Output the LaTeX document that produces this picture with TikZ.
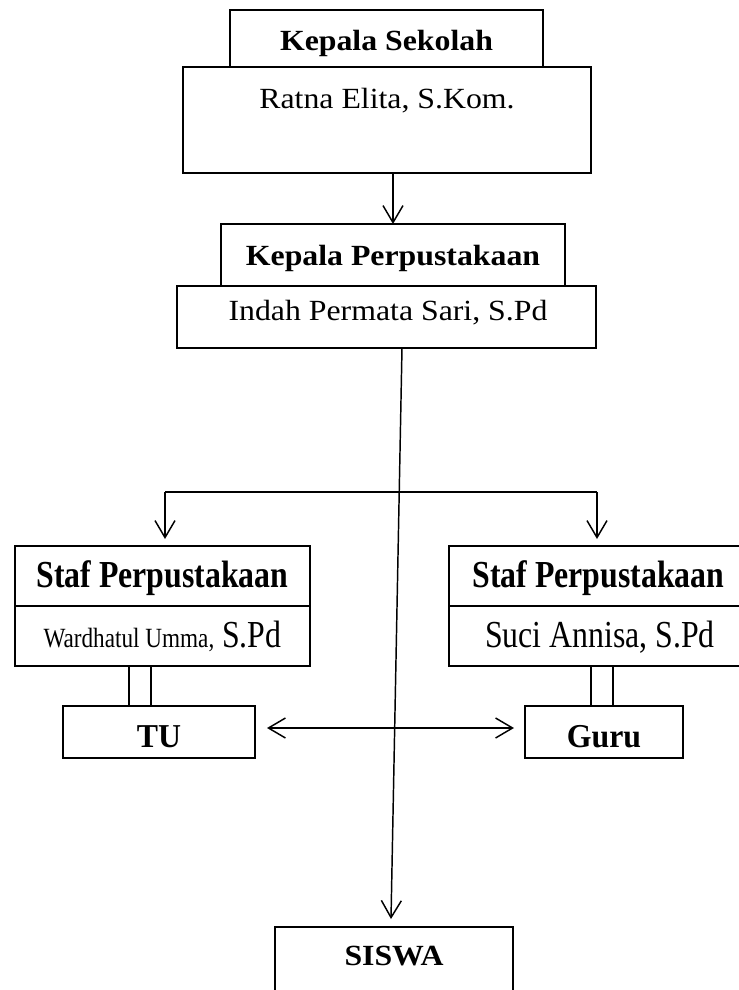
\documentclass[tikz,border=0pt]{standalone}
\usepackage{fontspec}
\setmainfont{Liberation Serif}
\usepackage{graphicx}
\usetikzlibrary{arrows.meta,calc}
\newcommand\upT[1]{\scalebox{1}[0.92]{#1}}
\newcommand\loT[1]{\scalebox{1}[1.2]{#1}}
\newcommand\miT[1]{\scalebox{1}[1.05]{#1}}
\def\u{0.75pt}
\begin{document}
\begin{tikzpicture}[x=0.75pt,y=-0.75pt,
  every node/.style={font=\fontsize{23.85}{28}\selectfont},
  boxst/.style={draw, line width=1.2pt, inner sep=0pt, outer sep=0pt},
  txt/.style={anchor=base, inner sep=0pt},
  conn/.style={line width=1.1pt},
  arr/.style={conn, -{Straight Barb[length=12.75pt, width=15pt, line width=1.1pt]}},
  darr/.style={conn, {Straight Barb[length=12.75pt, width=15pt, line width=1.1pt]}-{Straight Barb[length=12.75pt, width=15pt, line width=1.1pt]}}
]
\useasboundingbox (0,0) rectangle (739,990);
\clip (0,0) rectangle (739,990);

% boxes
\node[boxst, minimum width=313*\u, minimum height=57*\u] (kst) at (386.5,38.5) {};
\node[boxst, minimum width=408*\u, minimum height=106*\u] (ratna) at (387,120) {};
\node[boxst, minimum width=344*\u, minimum height=62*\u] (kpt) at (393,255) {};
\node[boxst, minimum width=419*\u, minimum height=62*\u] (indah) at (386.5,317) {};
\node[boxst, minimum width=295*\u, minimum height=60*\u] (stafL) at (162.5,576) {};
\node[boxst, minimum width=295*\u, minimum height=60*\u] (wardL) at (162.5,636) {};
\node[boxst, minimum width=299*\u, minimum height=60*\u] (stafR) at (598.5,576) {};
\node[boxst, minimum width=299*\u, minimum height=60*\u] (suciR) at (598.5,636) {};
\node[boxst, minimum width=192*\u, minimum height=52*\u] (tu) at (159,732) {};
\node[boxst, minimum width=158*\u, minimum height=52*\u] (guru) at (604,732) {};
\node[boxst, minimum width=238*\u, minimum height=90*\u] (siswa) at (394,972) {};

% texts
\node[txt] (tkst) at (386.5,50) {\upT{\bfseries Kepala Sekolah}};
\node[txt] (tratna) at (387,108) {\upT{Ratna Elita, S.Kom.}};
\node[txt] (tkpt) at (393,265) {\upT{\bfseries Kepala Perpustakaan}};
\node[txt] (tindah) at (388,320) {\upT{Indah Permata Sari, S.Pd}};
\node[txt] (tstafL) at (162.5,587) {\loT{\bfseries Staf Perpustakaan}};
\node[txt] (tstafR) at (598.5,587) {\loT{\bfseries Staf Perpustakaan}};
\node[txt] (tward) at (162.5,647) {\loT{{\fontsize{17.4}{20}\selectfont Wardhatul Umma,} S.Pd}};
\node[txt] (tsuci) at (600,647) {\loT{Suci Annisa, S.Pd}};
\node[txt] (ttu) at (159,747) {\miT{\bfseries TU}};
\node[txt] (tguru) at (604,747) {\miT{\bfseries Guru}};
\node[txt] (tsiswa) at (394,965) {\upT{\bfseries SISWA}};

% connectors
\draw[arr] (kpt.north |- ratna.south) -- (kpt.north);
\draw[arr] ($(indah.south)+(15.5,0)$) -- ($(siswa.north)+(-3,-8)$);
\coordinate (bL) at (165,492);
\coordinate (bR) at (597,492);
\draw[conn] (bL) -- (bR);
\draw[arr] (bL) -- ($(stafL.north -| bL)+(0,-7)$);
\draw[arr] (bR) -- ($(stafR.north -| bR)+(0,-7)$);
\draw[darr] ($(tu.east)+(12,-4)$) -- ($(guru.west)+(-11,-4)$);
\draw[conn] ($(tu.north)+(-30,0)$) coordinate (l1) -- (l1 |- wardL.south);
\draw[conn] ($(tu.north)+(-8,0)$) coordinate (l2) -- (l2 |- wardL.south);
\draw[conn] ($(guru.north)+(-13,0)$) coordinate (r1) -- (r1 |- suciR.south);
\draw[conn] ($(guru.north)+(9,0)$) coordinate (r2) -- (r2 |- suciR.south);
\end{tikzpicture}
\end{document}
